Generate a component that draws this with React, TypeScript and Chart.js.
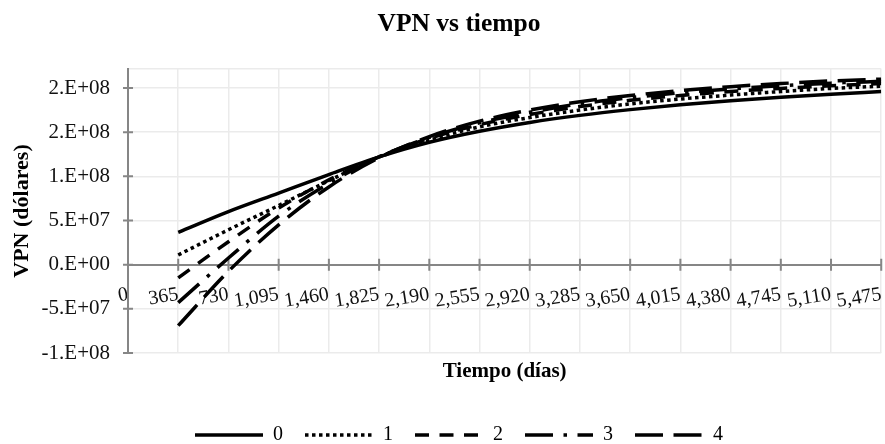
import React, { useEffect, useRef } from 'react';
import { Chart, registerables } from 'chart.js';

Chart.register(...registerables);

// ---- data ----
const DAYS = [365, 730, 1095, 1460, 1825, 2190, 2555, 2920, 3285, 3650, 4015, 4380, 4745, 5110, 5475];
const SERIES_NAMES = ['0', '1', '2', '3', '4'];
const VPN_0 = [36.5e6, 60e6, 81e6, 102e6, 122e6, 138.5e6, 151e6, 161e6, 169e6, 175.5e6, 181e6, 185.5e6, 189.5e6, 193e6, 196e6];
const VPN_1 = [11e6, 39.5e6, 67e6, 95e6, 122e6, 141e6, 156e6, 166.5e6, 175e6, 182e6, 187.5e6, 192e6, 196e6, 199.5e6, 202e6];
const VPN_2 = [-15e6, 26e6, 64e6, 96e6, 122e6, 143e6, 158.5e6, 170e6, 179e6, 186e6, 191.5e6, 196e6, 199.5e6, 202.5e6, 205e6];
const VPN_3 = [-43e6, 7.5e6, 55e6, 92e6, 122e6, 144e6, 160.5e6, 172.5e6, 182e6, 189e6, 194.5e6, 199e6, 202.5e6, 205.5e6, 207.5e6];
const VPN_4 = [-69e6, -7.5e6, 45e6, 88e6, 121e6, 145e6, 162.5e6, 175e6, 184.5e6, 191.5e6, 197e6, 201.5e6, 205e6, 208e6, 210e6];
const X_TICKS = [0, 365, 730, 1095, 1460, 1825, 2190, 2555, 2920, 3285, 3650, 4015, 4380, 4745, 5110, 5475];
const Y_TICKS = [-100e6, -50e6, 0, 50e6, 100e6, 150e6, 200e6];
const Y_MIN = -100e6;
const Y_MAX = 221.5e6;

const ALL_SERIES = [VPN_0, VPN_1, VPN_2, VPN_3, VPN_4];

// ---- styles ----
const FONT = '"Liberation Serif", "Times New Roman", serif';
const DASHES: number[][] = [[], [3.5, 3.5], [14, 10.5], [28, 10.5, 3.5, 10.5], [28, 10.5]];
const LINE_W = 3.5;
const AXIS_COLOR = '#868686';
const GRID_COLOR = '#ebebeb';

function sci(v: number): string {
  const s = v.toExponential(0);
  const [m, e] = s.split('e');
  const en = parseInt(e, 10);
  return m + '.E' + (en < 0 ? '-' : '+') + String(Math.abs(en)).padStart(2, '0');
}

const crossTicks = {
  id: 'crossTicks',
  beforeDatasetsDraw(chart: any) {
    const { ctx, scales } = chart;
    const xs = scales.x;
    const ys = scales.y;
    const y0 = ys.getPixelForValue(0);
    const x0 = chart.chartArea.left;
    ctx.save();
    ctx.strokeStyle = AXIS_COLOR;
    ctx.lineWidth = 2;
    ctx.beginPath();
    X_TICKS.forEach((v) => {
      if (v === 0) return;
      const px = xs.getPixelForValue(v);
      ctx.moveTo(px, y0 - 6);
      ctx.lineTo(px, y0 + 6);
    });
    Y_TICKS.forEach((v) => {
      const py = ys.getPixelForValue(v);
      ctx.moveTo(x0 - 5, py);
      ctx.lineTo(x0 + 5, py);
    });
    ctx.stroke();
    ctx.restore();
  },
};

export default function App() {
  const ref = useRef<HTMLCanvasElement>(null);
  useEffect(() => {
    const datasets = ALL_SERIES.map((vals, i) => ({
      label: SERIES_NAMES[i],
      data: DAYS.map((d, j) => ({ x: d, y: vals[j] })),
      borderColor: '#000',
      backgroundColor: '#000',
      borderWidth: LINE_W,
      borderDash: DASHES[i],
      borderCapStyle: 'butt' as const,
      pointRadius: 0,
      pointHoverRadius: 0,
      cubicInterpolationMode: 'monotone' as const,
      fill: false,
    }));
    const chart = new Chart(ref.current!, {
      type: 'line',
      data: { datasets },
      plugins: [crossTicks],
      options: {
        animation: false,
        responsive: false,
        devicePixelRatio: 1,
        layout: { padding: { left: 30, right: -3, top: 0, bottom: -11 } },
        plugins: {
          title: {
            display: true,
            text: 'VPN vs tiempo',
            color: '#000',
            font: { family: FONT, size: 25.5, weight: 'bold' },
            padding: { top: 9, bottom: 29.4 },
          },
          legend: {
            position: 'bottom',
            align: 'center',
            labels: {
              usePointStyle: true,
              pointStyle: 'line',
              pointStyleWidth: 68,
              padding: 22,
              color: '#000',
              font: { family: FONT, size: 20 },
              generateLabels: (ch: any) => {
                const items = Chart.defaults.plugins.legend.labels.generateLabels(ch);
                return items.map((it: any, i: number) => ({
                  ...it,
                  lineDash: DASHES[it.datasetIndex ?? i],
                  lineWidth: LINE_W,
                  strokeStyle: '#000',
                  fillStyle: '#000',
                  lineCap: 'butt',
                  pointStyle: 'line',
                }));
              },
            },
          },
          tooltip: { enabled: false },
        },
        scales: {
          x: {
            type: 'linear',
            position: { y: 0 } as any,
            min: 0,
            max: 5475,
            afterBuildTicks: (s: any) => {
              s.ticks = X_TICKS.map((v) => ({ value: v }));
            },
            grid: { color: GRID_COLOR, lineWidth: 1.5, drawTicks: true, tickLength: 18, tickColor: 'rgba(0,0,0,0)' },
            border: { color: AXIS_COLOR, width: 2 },
            ticks: {
              autoSkip: false,
              minRotation: 9,
              maxRotation: 9,
              padding: 0,
              color: '#111',
              font: { family: FONT, size: 20 },
              callback: (v: any) => Number(v).toLocaleString('en-US'),
            },
          },
          x2: {
            type: 'linear',
            axis: 'x',
            position: 'bottom',
            min: 0,
            max: 1,
            grid: { display: false, drawTicks: false },
            border: { display: false },
            ticks: { display: false },
            title: {
              display: true,
              text: 'Tiempo (días)',
              color: '#000',
              font: { family: FONT, size: 21, weight: 'bold' },
              padding: { top: 6.4, bottom: 18.4 },
            },
          } as any,
          y: {
            type: 'linear',
            position: 'left',
            min: Y_MIN,
            max: Y_MAX,
            afterBuildTicks: (s: any) => {
              s.ticks = [...Y_TICKS, Y_MAX].map((v) => ({ value: v }));
            },
            grid: { color: GRID_COLOR, lineWidth: 1.5, drawTicks: false },
            border: { color: AXIS_COLOR, width: 2 },
            ticks: {
              autoSkip: false,
              padding: 18,
              color: '#111',
              font: { family: FONT, size: 21 },
              callback: (v: any) => (Number(v) > 201e6 ? '' : sci(Number(v))),
            },
            title: {
              display: true,
              text: 'VPN (dólares)',
              color: '#000',
              font: { family: FONT, size: 22, weight: 'bold' },
              padding: { top: -21.2, bottom: -11.6 },
            },
          },
        },
      } as any,
    });
    return () => chart.destroy();
  }, []);
  return (
    <div style={{ position: 'absolute', left: 0, top: 0, width: 885, height: 444 }}>
      <canvas ref={ref} width={885} height={444} style={{ display: 'block' }} />
    </div>
  );
}
